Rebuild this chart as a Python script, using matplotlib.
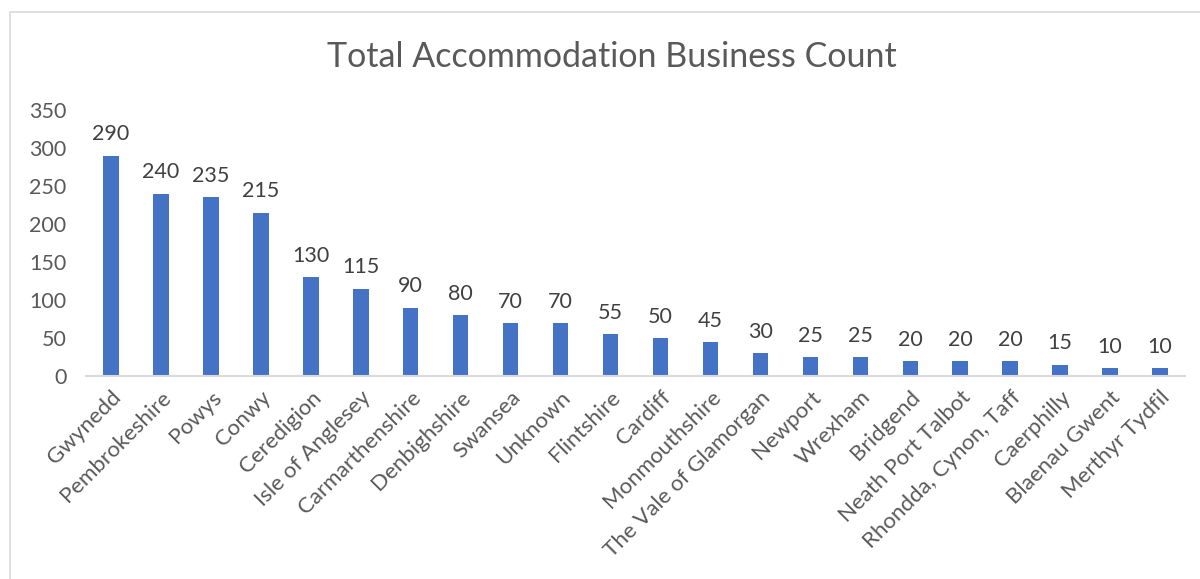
import matplotlib
matplotlib.use("Agg")
import matplotlib.pyplot as plt
import matplotlib.patches as mpatches

# ─── data ───
regions = ["Gwynedd", "Pembrokeshire", "Powys", "Conwy", "Ceredigion",
           "Isle of Anglesey", "Carmarthenshire", "Denbighshire", "Swansea",
           "Unknown", "Flintshire", "Cardiff", "Monmouthshire",
           "The Vale of Glamorgan", "Newport", "Wrexham", "Bridgend",
           "Neath Port Talbot", "Rhondda, Cynon, Taff", "Caerphilly",
           "Blaenau Gwent", "Merthyr Tydfil"]
counts = [290, 240, 235, 215, 130, 115, 90, 80, 70, 70, 55, 50, 45, 30,
          25, 25, 20, 20, 20, 15, 10, 10]
yticks = [0, 50, 100, 150, 200, 250, 300, 350]

plt.rcParams["font.family"] = ["Lato", "DejaVu Sans"]

fig = plt.figure(figsize=(12, 5.79), dpi=100)
ax = fig.add_axes([0.0717, 0.3506, 0.9158, 0.4594])

# chart frame like Excel
frame = mpatches.Rectangle((10 / 1200, -0.1), 1.2, 1 - 12 / 579 + 0.1,
                           transform=fig.transFigure, fill=False,
                           edgecolor="#D9D9D9", linewidth=1.2)
fig.patches.append(frame)

x = list(range(len(regions)))
bars = ax.bar(x, counts, width=0.31, color="#4472C4")
ax.bar_label(bars, padding=8, fontsize=15.5, color="#404040")

ax.set_xlim(-0.5, len(regions) - 0.5)
ax.set_ylim(0, 350)
ax.set_yticks(yticks)
ax.set_xticks(x)
ax.set_xticklabels(regions, rotation=45, ha="right", rotation_mode="anchor")
ax.tick_params(axis="y", length=0, labelsize=15.5, labelcolor="#595959", pad=14)
ax.tick_params(axis="x", length=0, labelsize=16, labelcolor="#595959", pad=8)

for side in ["top", "right", "left"]:
    ax.spines[side].set_visible(False)
ax.spines["bottom"].set_color("#D9D9D9")
ax.spines["bottom"].set_linewidth(1.5)

fig.text(0.51, 1 - 57 / 579, "Total Accommodation Business Count",
         ha="center", va="center", fontsize=24.5, color="#595959")

plt.savefig("out.png", dpi=100)
